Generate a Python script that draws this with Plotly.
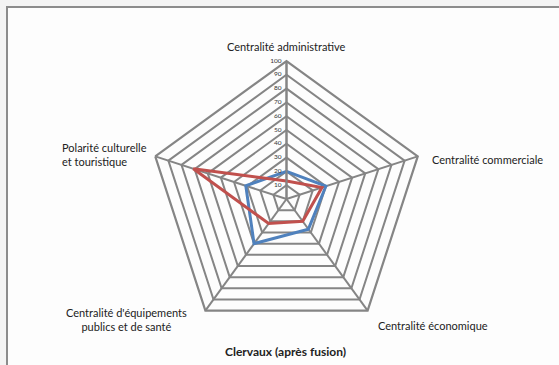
import plotly.graph_objects as go

W, H = 559, 365

categories = [
    "Centralité administrative",
    "Centralité commerciale",
    "Centralité économique",
    "Centralité d'équipements publics et de santé",
    "Polarité culturelle et touristique",
]
blue_values = [20, 30, 27, 40, 31]
red_values = [13, 27, 20, 22, 71]
radial_ticks = [0, 10, 20, 30, 40, 50, 60, 70, 80, 90, 100]
title = "Clervaux (après fusion)"

GRID = "#858585"
FONT = "Lato, 'Open Sans', sans-serif"


def closed(vals):
    return list(vals) + [vals[0]]


fig = go.Figure()
fig.add_trace(go.Scatterpolar(
    r=closed(blue_values), theta=closed(categories), mode="lines",
    line=dict(color="#4f81bd", width=3), showlegend=False, hoverinfo="skip",
))
fig.add_trace(go.Scatterpolar(
    r=closed(red_values), theta=closed(categories), mode="lines",
    line=dict(color="#c0504d", width=3), showlegend=False, hoverinfo="skip",
))
# radial tick labels, horizontal, left of the vertical axis
fig.add_trace(go.Scatterpolar(
    r=radial_ticks, theta=[categories[0]] * len(radial_ticks), mode="text",
    text=[f"{t}\u00a0\u00a0\u00a0" for t in radial_ticks], textposition="middle left",
    textfont=dict(size=6.5, color="#333", family=FONT),
    showlegend=False, hoverinfo="skip",
))

# polar area: centre (286.5, 199) px, radius 138 px
cx, cy, rad = 286.5, 199, 138
fig.update_layout(
    width=W, height=H,
    margin=dict(l=0, r=0, t=0, b=0),
    paper_bgcolor="#f4f4f4",
    font=dict(family=FONT, color="#222"),
    polar=dict(
        domain=dict(x=[(cx - rad) / W, (cx + rad) / W],
                    y=[1 - (cy + rad) / H, 1 - (cy - rad) / H]),
        bgcolor="rgba(0,0,0,0)",
        gridshape="linear",
        radialaxis=dict(
            range=[0, 100], tickvals=radial_ticks, showticklabels=False,
            angle=90, showline=True, linecolor=GRID, linewidth=2,
            gridcolor=GRID, gridwidth=2.2, ticks="",
        ),
        angularaxis=dict(
            rotation=90, direction="clockwise", showticklabels=False, ticks="",
            showline=True, linecolor=GRID, linewidth=2.2,
            gridcolor=GRID, gridwidth=2,
        ),
    ),
)

# chart frame
fig.add_shape(type="rect", xref="paper", yref="paper",
              x0=7 / W, x1=1.02, y0=-0.02, y1=1 - 7 / H,
              line=dict(color="#8c8c8c", width=2), fillcolor="#fdfdfd", layer="below")

labels = [
    (categories[0], 286, 46, "center"),
    (categories[1], 430, 159, "left"),
    (categories[2], 376, 325, "left"),
    ("Centralité d'équipements<br>publics et de santé", 126, 319, "center"),
    ("Polarité culturelle<br>et touristique", 60, 155, "left"),
]
for text, x, y, anchor in labels:
    fig.add_annotation(
        x=x / W, y=1 - y / H, xref="paper", yref="paper", text=text,
        showarrow=False, xanchor=anchor, yanchor="middle", align=anchor,
        font=dict(size=11, color="#222", family=FONT),
    )

fig.add_annotation(
    x=285 / W, y=1 - 351 / H, xref="paper", yref="paper",
    text=f"<b>{title}</b>", showarrow=False, xanchor="center", yanchor="middle",
    font=dict(size=12, color="#222", family=FONT),
)

fig.write_html("out.html", config={"displayModeBar": False},
               post_script="document.body.style.margin='0';")
